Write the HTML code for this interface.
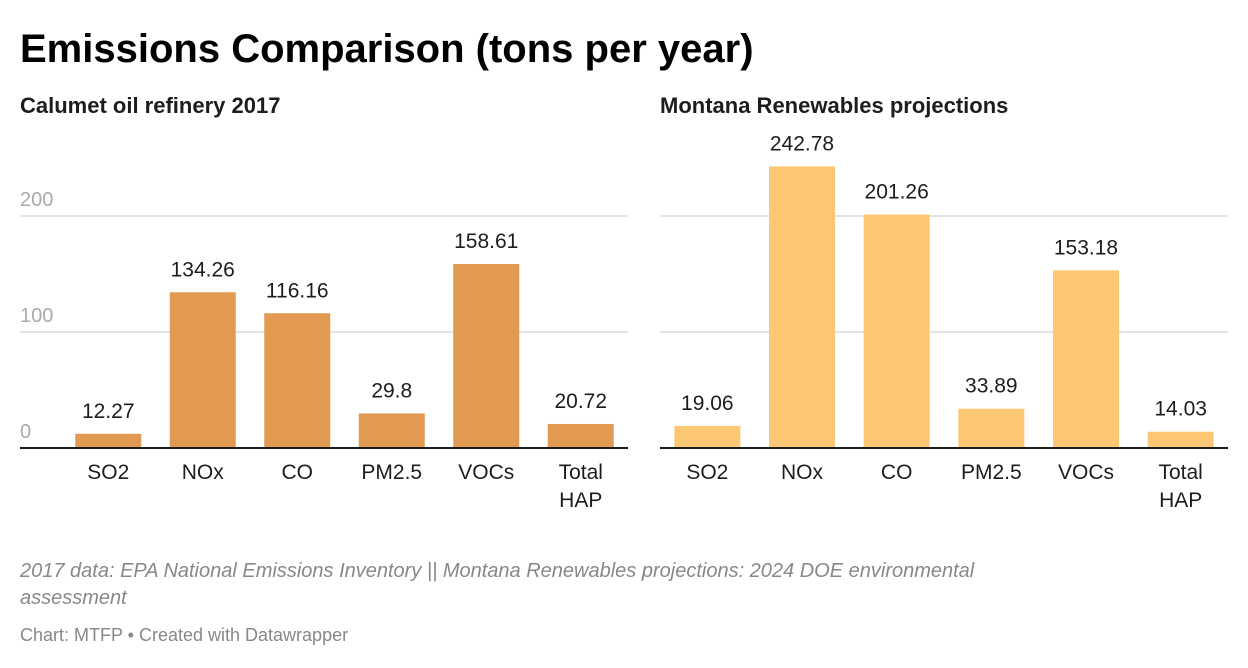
<!DOCTYPE html>
<html><head><meta charset="utf-8"><style>
body{margin:0;background:#fff;width:1248px;height:668px;overflow:hidden;font-family:"Liberation Sans",sans-serif}
svg{position:absolute;left:0;top:0}
</style></head><body>
<svg width="1248" height="668">
<text x="20" y="62" font-size="40" font-weight="bold" fill="#000">Emissions Comparison (tons per year)</text>
<text x="20" y="113" font-size="22" font-weight="bold" fill="#1d1d1d">Calumet oil refinery 2017</text>
<text x="660" y="113" font-size="22" font-weight="bold" fill="#1d1d1d">Montana Renewables projections</text>
<g id="plots"></g>
<text x="20" y="577" font-size="20" font-style="italic" fill="#888">2017 data: EPA National Emissions Inventory || Montana Renewables projections: 2024 DOE environmental</text>
<text x="20" y="604" font-size="20" font-style="italic" fill="#888">assessment</text>
<text x="20" y="641" font-size="18" fill="#888">Chart: MTFP • Created with Datawrapper</text>
</svg>
<script>
const categories=["SO2","NOx","CO","PM2.5","VOCs","Total HAP"];
const calumetValues=[12.27,134.26,116.16,29.8,158.61,20.72];
const montanaValues=[19.06,242.78,201.26,33.89,153.18,14.03];
const tickValues=[0,100,200];
const NS="http://www.w3.org/2000/svg";
const g=document.getElementById("plots");
function mk(t,a,txt){const e=document.createElementNS(NS,t);for(const k in a)e.setAttribute(k,a[k]);if(txt!=null)e.textContent=txt;g.appendChild(e);return e;}
const baseY=448, pxPer=1.16;
function y(v){return baseY-v*pxPer;}
function panel(x0,x1,bandStart,values,color,showTicks,prefix){
  tickValues.forEach(t=>{
    if(t>0){const l=mk("line",{x1:x0,x2:x1,y1:y(t),y2:y(t),stroke:"#e3e3e3","stroke-width":2});
    
    }
    if(showTicks){const tx=mk("text",{x:x0,y:y(t)-10,"font-size":20,fill:"#aaa"},String(t));
    
    }
  });
  const step=(x1-bandStart)/categories.length, bw=66;
  values.forEach((v,i)=>{
    const cx=bandStart+step*i+step/2;
    const r=mk("rect",{x:cx-bw/2,y:y(v),width:bw,height:v*pxPer,fill:color});
    
    
    const vl=mk("text",{x:cx,y:y(v)-16,"font-size":21,fill:"#1d1d1d","text-anchor":"middle"},String(v));
    
    
    const parts=categories[i].split(" ");
    parts.forEach((p,j)=>{
      const cl=mk("text",{x:cx,y:479+j*28,"font-size":21,fill:"#1d1d1d","text-anchor":"middle"},p);
      
      
    });
  });
  const b=mk("line",{x1:x0,x2:x1,y1:baseY,y2:baseY,stroke:"#1d1d1d","stroke-width":2});
  
  
}
panel(20,628,61,calumetValues,"#e29a52",true,"calumet");
panel(660,1228,660,montanaValues,"#fdc874",false,"montana");
</script>
</body></html>
